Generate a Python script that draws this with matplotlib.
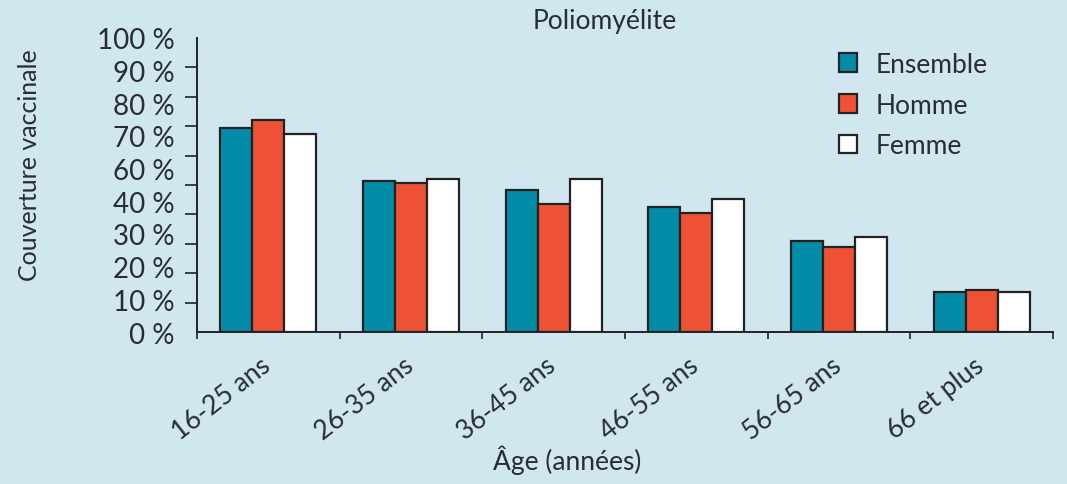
import numpy as np
import matplotlib.pyplot as plt
from matplotlib.ticker import FixedLocator

plt.rcParams['font.family'] = ['Lato', 'DejaVu Sans']

# Data
categories = ["16-25 ans", "26-35 ans", "36-45 ans", "46-55 ans", "56-65 ans", "66 et plus"]
ensemble = [69.5, 51.4, 48.4, 42.5, 31.0, 13.6]
homme = [72.2, 50.6, 43.4, 40.5, 28.8, 14.3]
femme = [67.4, 52.0, 51.9, 45.3, 32.3, 13.6]
ytick_labels = ["0 %", "10 %", "20 %", "30 %", "40 %", "60 %", "70 %", "80 %", "90 %", "100 %"]

bg = "#d0e7ef"
teal = "#028ca8"
red = "#ee5236"
txt = "#2a2a3a"

fig = plt.figure(figsize=(10.67, 4.85), dpi=100, facecolor=bg)
ax = fig.add_axes([0.1846, 0.3134, 0.8023, 0.6062], facecolor=bg)

x = np.arange(len(categories))
w = 0.225
ax.bar(x - w, ensemble, w, color=teal, edgecolor="#222222", linewidth=1.6, label="Ensemble")
ax.bar(x, homme, w, color=red, edgecolor="#222222", linewidth=1.6, label="Homme")
ax.bar(x + w, femme, w, color="white", edgecolor="#222222", linewidth=1.6, label="Femme")

ax.set_xlim(-0.5, len(categories) - 0.5)
ax.set_ylim(0, 100)

# x ticks at group boundaries, labels at group centres
ax.set_xticks(np.arange(len(categories) + 1) - 0.5)
ax.set_xticklabels([])
ax.tick_params(axis="x", direction="out", length=5, width=1.2, color="#222222")
for xi, lab in zip(x, categories):
    ax.text(xi - 0.06, -7, lab, rotation=38, ha="right", va="top",
            rotation_mode="anchor", fontsize=19, color=txt)

# y axis: labels spread evenly (no 50 %), ticks every 10 %
ax.yaxis.set_major_locator(FixedLocator(np.linspace(0, 100, len(ytick_labels))))
ax.set_yticklabels(ytick_labels, fontsize=20, color=txt)
ax.tick_params(axis="y", which="major", length=0, pad=16)
ax.yaxis.set_minor_locator(FixedLocator(np.arange(0, 101, 10)))
ax.tick_params(axis="y", which="minor", direction="out", length=9, width=1.2, color="#222222")

for s in ["top", "right"]:
    ax.spines[s].set_visible(False)
for s in ["left", "bottom"]:
    ax.spines[s].set_linewidth(1.4)
    ax.spines[s].set_color("#222222")

fig.text(605 / 1067, 1 - 22 / 485, "Poliomyélite", ha="center", va="center",
         fontsize=19, color=txt)
fig.text(30 / 1067, 1 - 165 / 485, "Couverture vaccinale", rotation=90,
         ha="center", va="center", fontsize=18, color=txt)
fig.text(567 / 1067, 1 - 460 / 485, "Âge (années)", ha="center", va="center",
         fontsize=19, color=txt)

ax.legend(loc="upper left", bbox_to_anchor=(815 / 1067, 1 - 29 / 485),
          bbox_transform=fig.transFigure, frameon=False, fontsize=19,
          handlelength=0.7, handleheight=0.7, labelspacing=0.6,
          handletextpad=0.7, labelcolor=txt)

fig.savefig("out.png", dpi=100, facecolor=bg)
